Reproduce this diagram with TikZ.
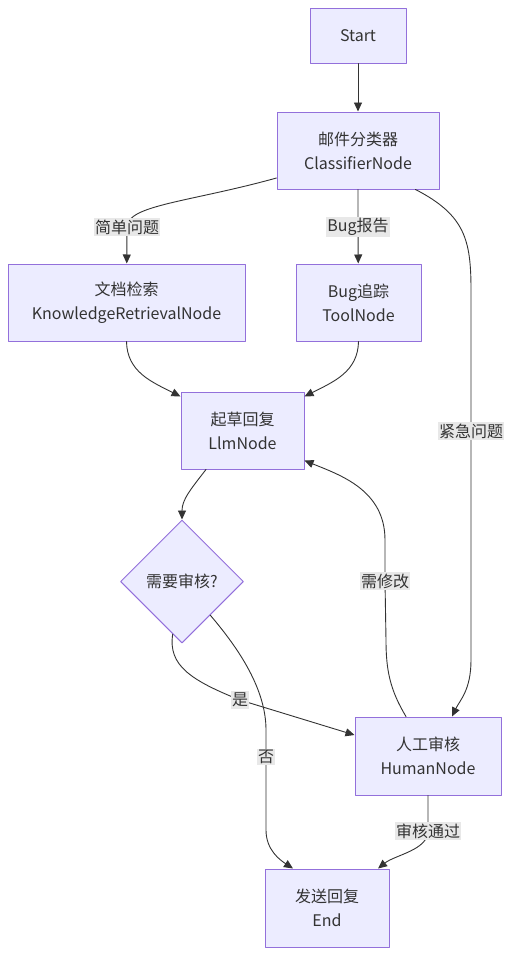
\documentclass[tikz,border=0pt]{standalone}
\usepackage{fontspec}
\setmainfont{Noto Sans CJK SC}
\usetikzlibrary{arrows.meta,shapes.geometric}
\definecolor{nodefill}{HTML}{ECECFF}
\definecolor{nodeline}{HTML}{9370DB}
\definecolor{ink}{HTML}{333333}
\definecolor{lblfill}{HTML}{E8E8E8}
\begin{document}
\begin{tikzpicture}[x=1pt, y=-1pt, >={Triangle[length=9pt,width=8pt]}, line join=round, line cap=round, font=\fontsize{16}{24}\selectfont, text=ink,
	box/.style={draw=nodeline, fill=nodefill, line width=1pt, align=center, inner sep=0pt},
	decide/.style={diamond, aspect=1, draw=nodeline, fill=nodefill, line width=1pt, minimum size=123pt, inner sep=0pt},
	elabel/.style={fill=lblfill, inner xsep=1pt, inner ysep=1.5pt, text=ink},
	edge/.style={draw=ink, line width=0.9pt, ->}]
				\useasboundingbox (0,0) rectangle (512,956);
				\node[box, minimum width=96pt, minimum height=55pt] (start) at (358,35.5) {Start};
				\node[box, minimum width=162pt, minimum height=77pt] (cls) at (358,150.5) {邮件分类器\\ClassifierNode};
				\node[box, minimum width=237pt, minimum height=77pt] (kr) at (126.5,302.5) {文档检索\\KnowledgeRetrievalNode};
				\node[box, minimum width=125pt, minimum height=77pt] (tool) at (358.5,302.5) {Bug追踪\\ToolNode};
				\node[box, minimum width=123pt, minimum height=77pt] (llm) at (242.5,430.5) {起草回复\\LlmNode};
				\node[decide] (chk) at (182,581.5) {需要审核?};
				\node[box, minimum width=146pt, minimum height=78pt] (hum) at (428,756) {人工审核\\HumanNode};
				\node[box, minimum width=124pt, minimum height=78pt] (end) at (327,908) {发送回复\\End};
				\path (127,227) coordinate (l1)
				(358,227) coordinate (l2)
				(471,431) coordinate (l3)
				(385,581) coordinate (l4)
				(240,700) coordinate (l5)
				(266,757) coordinate (l6)
				(428,831) coordinate (l7);
				\draw[edge] (start) -- (cls);
				\draw[edge] ([yshift=-27.5pt]cls.west) .. controls (190,202) and (127,205) .. (l1) -- (kr);
				\draw[edge] (cls) -- (l2) -- (tool);
				\draw[edge] ([xshift=-24pt]cls.south east) .. controls (465,215) and (471,240) .. (471,290) -- (l3) -- (471,660) .. controls (471,690) and (460,700) .. ([xshift=24pt]hum.north);
				\draw[edge] (kr.south) .. controls (127,372) and (152,382) .. ([yshift=-5pt]llm.north west);
				\draw[edge] (tool.south) .. controls (358,372) and (333,382) .. ([yshift=-5pt]llm.north east);
				\draw[edge] ([xshift=-36.5pt]llm.south) .. controls (190,490) and (182,500) .. (chk.north);
				\draw[edge] (chk.260) .. controls (168,665) and (190,680) .. (l5) -- ([yshift=21pt]hum.west);
				\draw[edge] (chk.310) .. controls (240,650) and (266,690) .. (266,730) -- (l6) -- (266,830) .. controls (266,850) and (280,860) .. ([xshift=-34pt]end.north);
				\draw[edge] ([xshift=-22pt]hum.north) .. controls (390,690) and (386,670) .. (386,640) -- (l4) -- (385,540) .. controls (385,490) and (340,475) .. ([yshift=9pt]llm.south east);
				\draw[edge] (hum.south) .. controls (428,810) and (428,815) .. (l7) .. controls (428,850) and (395,855) .. ([xshift=51pt]end.north);
				\foreach \p/\t in {l1/简单问题,l2/Bug报告,l3/紧急问题,l4/需修改,l5/是,l6/否,l7/审核通过}{
					\node[elabel] (\p-t) at (\p) {\t};
				}
			\end{tikzpicture}
\end{document}
